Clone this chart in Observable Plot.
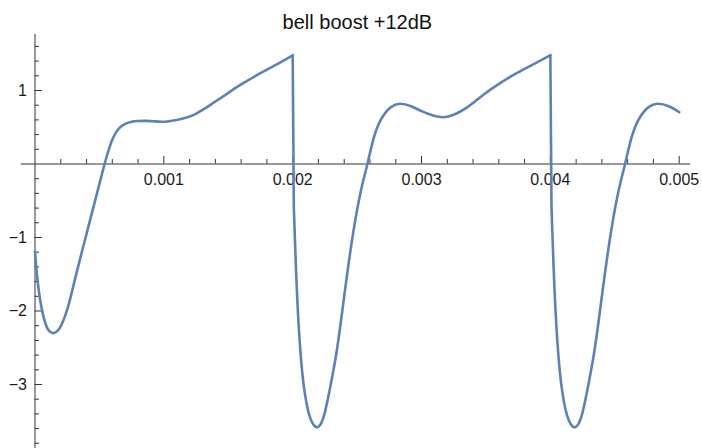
<!DOCTYPE html>
<html>
<head>
<meta charset="utf-8">
<script src="https://cdn.jsdelivr.net/npm/d3@7"></script>
<script src="https://cdn.jsdelivr.net/npm/@observablehq/plot@0.6"></script>
<style>
  html, body { margin: 0; padding: 0; background: #fff; }
  svg { display: block; }
</style>
</head>
<body>
<div id="chart"></div>
<script>
// Output waveform of a sawtooth after a +12 dB bell boost (time in seconds).
const time = [
  0, 0.000017, 0.000043, 0.000081, 0.000115, 0.000145, 0.000175, 0.000205,
  0.000235, 0.00026, 0.000285, 0.00031, 0.00035, 0.0004, 0.00045, 0.0005, 0.00054,
  0.000575, 0.00061, 0.00065, 0.0007, 0.00075, 0.0008, 0.00086, 0.00092,
  0.00098, 0.00104, 0.0011, 0.00117, 0.001233, 0.0013, 0.001362, 0.00143,
  0.001492, 0.00156, 0.00162, 0.00175, 0.00188, 0.002,
  0.002009, 0.002025, 0.002045, 0.002075, 0.002115, 0.002155, 0.002195, 0.002235,
  0.002275, 0.002335, 0.002385, 0.002455, 0.002525, 0.00258, 0.002635, 0.0027,
  0.00276, 0.002831, 0.00292, 0.003, 0.00309, 0.00317, 0.00325, 0.003354,
  0.003483, 0.003613, 0.003742, 0.003871, 0.004,
  0.004009, 0.004025, 0.004045, 0.004075, 0.004115, 0.004155, 0.004195, 0.004235,
  0.004275, 0.004335, 0.004385, 0.004455, 0.004525, 0.00458, 0.004635, 0.0047,
  0.00476, 0.004831, 0.00492, 0.005
];
const level = [
  -1.19, -1.54, -1.88, -2.17, -2.28, -2.3, -2.27, -2.19,
  -2.06, -1.92, -1.75, -1.57, -1.29, -0.95, -0.61, -0.27, 0,
  0.21, 0.37, 0.48, 0.545, 0.575, 0.585, 0.587, 0.581,
  0.574, 0.582, 0.598, 0.628, 0.668, 0.735, 0.805, 0.885,
  0.958, 1.04, 1.105, 1.235, 1.36, 1.48,
  -0.6, -1.4, -2.15, -2.85, -3.32, -3.53, -3.58, -3.47,
  -3.18, -2.62, -2.0, -1.1, -0.4, 0, 0.39, 0.65,
  0.77, 0.82, 0.785, 0.72, 0.66, 0.637, 0.67, 0.77,
  0.945, 1.105, 1.24, 1.36, 1.48,
  -0.6, -1.4, -2.15, -2.85, -3.32, -3.53, -3.58, -3.47,
  -3.18, -2.62, -2.0, -1.1, -0.4, 0, 0.39, 0.65,
  0.77, 0.82, 0.785, 0.705
];

const xMajor = [0.001, 0.002, 0.003, 0.004, 0.005];
const xMinor = [0.0002, 0.0004, 0.0006, 0.0008, 0.0012, 0.0014, 0.0016, 0.0018,
  0.0022, 0.0024, 0.0026, 0.0028, 0.0032, 0.0034, 0.0036, 0.0038,
  0.0042, 0.0044, 0.0046, 0.0048];
const xLabels = ["0.001", "0.002", "0.003", "0.004", "0.005"];
const yMajor = [1, -1, -2, -3];
const yMinor = [1.6, 1.4, 1.2, 0.8, 0.6, 0.4, 0.2, -0.2, -0.4, -0.6, -0.8,
  -1.2, -1.4, -1.6, -1.8, -2.2, -2.4, -2.6, -2.8, -3.2, -3.4, -3.6, -3.8];
const yLabels = ["1", "\u22121", "\u22122", "\u22123"];
const xAxisExtent = [-0.000107, 0.00509];
const yAxisExtent = [1.7619, -3.8707];
const title = "bell boost +12dB";

// Split the trace into smooth pieces at the sawtooth resets, joined by
// straight drop segments so the spline does not overshoot at the jumps.
const points = [];
let piece = 0;
time.forEach((t, i) => {
  if (i > 0 && level[i - 1] - level[i] > 1.5) {
    piece++;
    points.push({t: time[i - 1], v: level[i - 1], piece});
    points.push({t, v: level[i], piece});
    piece++;
  }
  points.push({t, v: level[i], piece});
});

const font = "'Liberation Sans', Arial, Helvetica, sans-serif";
const axisColor = "#333";

const chart = Plot.plot({
  width: 702,
  height: 448,
  marginLeft: 34.5,
  marginRight: 23.3,
  marginTop: 34,
  marginBottom: 0,
  style: {fontFamily: font, background: "#fff", overflow: "visible"},
  x: {domain: [0, 0.005], axis: null},
  y: {domain: [yAxisExtent[1], yAxisExtent[0]], axis: null},
  marks: [
    // horizontal axis through y = 0
    Plot.ruleY([0], {x1: xAxisExtent[0], x2: xAxisExtent[1], stroke: axisColor, strokeWidth: 1}),
    // vertical axis through x = 0
    Plot.ruleX([0], {y1: yAxisExtent[0], y2: yAxisExtent[1], stroke: axisColor, strokeWidth: 1}),
    // x ticks point up from the axis
    Plot.ruleX(xMajor, {x: d => d, y1: 0, y2: 0, insetTop: -7.5, stroke: axisColor}),
    Plot.ruleX(xMinor, {x: d => d, y1: 0, y2: 0, insetTop: -4.5, stroke: axisColor}),
    // y ticks point right from the axis
    Plot.ruleY(yMajor, {y: d => d, x1: 0, x2: 0, insetRight: -7.5, stroke: axisColor}),
    Plot.ruleY(yMinor, {y: d => d, x1: 0, x2: 0, insetRight: -4.5, stroke: axisColor}),
    Plot.text(xMajor, {x: d => d, y: 0, text: (d, i) => xLabels[i], dy: 9.5,
      lineAnchor: "top", fontSize: 16, fill: "#1a1a1a"}),
    Plot.text(yMajor, {x: 0, y: d => d, text: (d, i) => yLabels[i], dx: -8,
      textAnchor: "end", fontSize: 16, fill: "#1a1a1a"}),
    Plot.line(points, {x: "t", y: "v", z: "piece", stroke: "#5E81B5", strokeWidth: 2.6,
      curve: "natural", strokeLinejoin: "round", strokeLinecap: "round"}),
    Plot.text([title], {frameAnchor: "top", text: d => d, lineAnchor: "bottom",
      dx: 0.3, dy: -6, fontSize: 20, fill: "#111"})
  ]
});

document.getElementById("chart").appendChild(chart);
</script>
</body>
</html>
